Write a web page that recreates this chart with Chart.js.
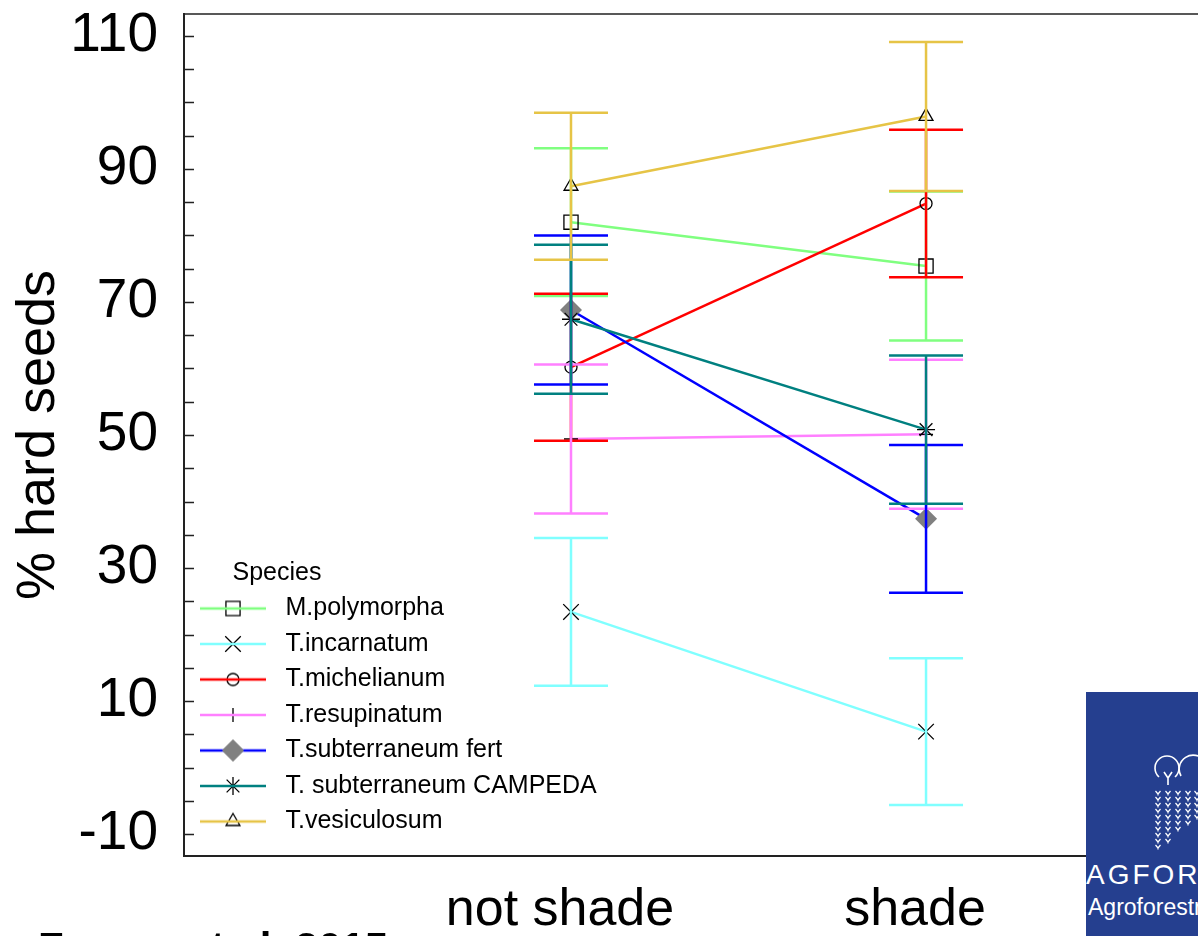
<!DOCTYPE html>
<html>
<head>
<meta charset="utf-8">
<script src="https://cdn.jsdelivr.net/npm/chart.js@4.4.1/dist/chart.umd.min.js"></script>
<style>
  html, body { margin: 0; padding: 0; background: #fff; overflow: hidden; }
  #wrap { position: relative; width: 1198px; height: 936px; }
  #logo { position: absolute; left: 1086px; top: 692px; width: 112px; height: 244px;
          background: #253f8f; overflow: hidden; color: #fff;
          font-family: "Liberation Sans", Arial, sans-serif; }
  #logo .big { position: absolute; left: 0; top: 169px; font-size: 28px; line-height: 28px;
               letter-spacing: 3px; white-space: nowrap; }
  #logo .small { position: absolute; left: 2px; top: 204px; font-size: 23px; line-height: 23px;
                 white-space: nowrap; }
  #cite { position: absolute; left: 38px; top: 927px; font: bold 42px/42px "Liberation Sans", Arial, sans-serif;
          white-space: nowrap; color: #000; }
</style>
</head>
<body>
<div id="wrap">
  <canvas id="seeds-chart" width="1198" height="936"></canvas>
  <div id="logo">
    <svg id="trees" width="112" height="160" style="position:absolute;left:0;top:0"></svg>
    <div class="big">AGFORWARD</div>
    <div class="small">Agroforestry that will advance</div>
  </div>
  <div id="cite">Franca et al. 2015</div>
</div>
<script>
/* ---- data ---- */
const categories = ['not shade', 'shade'];
const species = ['M.polymorpha', 'T.incarnatum', 'T.michelianum', 'T.resupinatum',
                 'T.subterraneum fert', 'T. subterraneum CAMPEDA', 'T.vesiculosum'];
const notShadeMean = [82.0, 23.4, 60.2, 49.4, 68.8, 67.4, 87.4];
const shadeMean    = [75.4, 5.4, 84.8, 50.1, 37.4, 50.8, 97.9];
const notShadeErr  = [11.1, 11.1, 11.05, 11.2, 11.2, 11.2, 11.05];
const shadeErr     = [11.2, 11.05, 11.1, 11.2, 11.1, 11.15, 11.2];
const yTickLabels  = [-10, 10, 30, 50, 70, 90, 110];
const yMinorTicks  = [-10, -5, 0, 5, 10, 15, 20, 25, 30, 35, 40, 45, 50, 55, 60,
                      65, 70, 75, 80, 85, 90, 95, 100, 105, 110];

/* ---- styles ---- */
const colors  = ['#80ff80', '#80ffff', '#ff0000', '#ff80ff', '#0000ff', '#008080', '#e6c446'];
const markers = ['rect', 'crossRot', 'circle', 'cross', 'rectRot', 'star', 'triangle'];
const msize   = [10, 11, 6, 7, 11, 9, 8];
const FONT = '"Liberation Sans", Arial, sans-serif';

function markerStroke(i) { return i === 4 ? 'rgba(0,0,0,0)' : '#000'; }
function markerFill(i) { return i === 4 ? '#808080' : 'rgba(0,0,0,0)'; }

/* legend swatch: line with the marker on it */
function makeIcon(i) {
  const c = document.createElement('canvas');
  c.width = 66; c.height = 28;
  const g = c.getContext('2d');
  g.strokeStyle = markerStroke(i);
  g.fillStyle = markerFill(i);
  g.lineWidth = 1.3;
  Chart.helpers.drawPoint(g, { pointStyle: markers[i], radius: msize[i], rotation: 0, borderWidth: 1.3 }, 33, 14);
  g.strokeStyle = colors[i];
  g.lineWidth = 2.5;
  g.beginPath(); g.moveTo(0, 14); g.lineTo(66, 14); g.stroke();
  if (i === 4) {
    g.fillStyle = '#808080';
    Chart.helpers.drawPoint(g, { pointStyle: 'rectRot', radius: msize[i], rotation: 0, borderWidth: 0 }, 33, 14);
  }
  return c;
}
const legendIcons = species.map((s, i) => makeIcon(i));

/* error bars, drawn over the series lines */
const errorBars = {
  id: 'errorBars',
  afterDatasetsDraw(chart) {
    const { ctx, scales: { x, y } } = chart;
    ctx.save();
    ctx.lineWidth = 2.5;
    chart.data.datasets.forEach((ds) => {
      ctx.strokeStyle = ds.borderColor;
      ds.data.forEach((p, j) => {
        const px = x.getPixelForValue(p.x);
        const top = y.getPixelForValue(p.y + ds.err[j]);
        const bot = y.getPixelForValue(p.y - ds.err[j]);
        ctx.beginPath();
        ctx.moveTo(px, top); ctx.lineTo(px, bot);
        ctx.moveTo(px - 37, top); ctx.lineTo(px + 37, top);
        ctx.moveTo(px - 37, bot); ctx.lineTo(px + 37, bot);
        ctx.stroke();
      });
    });
    ctx.restore();
  }
};

/* top frame line and inward y ticks */
const frame = {
  id: 'frame',
  afterDraw(chart) {
    const { ctx, chartArea: a, scales: { y } } = chart;
    ctx.save();
    ctx.strokeStyle = '#222';
    ctx.lineWidth = 1.5;
    ctx.beginPath();
    ctx.moveTo(a.left, a.top); ctx.lineTo(a.right, a.top);
    y.ticks.forEach((t) => {
      const py = Math.round(y.getPixelForValue(t.value)) + 0.5;
      ctx.moveTo(a.left, py); ctx.lineTo(a.left + 10, py);
    });
    ctx.stroke();
    ctx.restore();
  }
};

/* move the legend to the lower left corner of the plot */
const legendPlace = {
  id: 'legendPlace',
  afterLayout(chart) {
    const lg = chart.legend;
    const a = chart.chartArea;
    lg.left = a.left - 1.5;
    lg.top = a.bottom - 295.5;
    lg.right = lg.left + lg.width + 20;
    lg.bottom = lg.top + 320;
  }
};

const datasets = species.map((name, i) => ({
  label: name,
  data: [{ x: 0, y: notShadeMean[i] }, { x: 1, y: shadeMean[i] }],
  err: [notShadeErr[i], shadeErr[i]],
  borderColor: colors[i],
  backgroundColor: colors[i],
  borderWidth: 2.5,
  pointStyle: markers[i],
  pointRadius: msize[i],
  pointHoverRadius: msize[i],
  pointBorderColor: markerStroke(i),
  pointBackgroundColor: markerFill(i),
  pointBorderWidth: 1.3,
  order: -i
}));

new Chart(document.getElementById('seeds-chart'), {
  type: 'line',
  data: { datasets },
  options: {
    responsive: false,
    animation: false,
    layout: { autoPadding: false, padding: { top: 14, left: 0, right: 0, bottom: 0 } },
    scales: {
      x: {
        type: 'linear',
        min: -1.09,
        max: 1.766,
        afterBuildTicks: (s) => { s.ticks = categories.map((c, i) => ({ value: i })); },
        afterFit: (s) => { s.height = 80; s.paddingLeft = 0; s.paddingRight = 0; },
        ticks: {
          color: '#000',
          padding: 29,
          labelOffset: -11,
          maxRotation: 0,
          autoSkip: false,
          font: { family: FONT, size: 52, lineHeight: 1 },
          callback: (v) => categories[v]
        },
        grid: { drawOnChartArea: false, drawTicks: false },
        border: { color: '#222', width: 2 }
      },
      y: {
        min: -13.3,
        max: 113.3,
        afterBuildTicks: (s) => { s.ticks = yMinorTicks.map((v) => ({ value: v })); },
        afterFit: (s) => { s.width = 184; s.paddingTop = 0; s.paddingBottom = 0; },
        ticks: {
          color: '#000',
          padding: 26,
          autoSkip: false,
          font: { family: FONT, size: 55, lineHeight: 1 },
          callback: (v) => (yTickLabels.includes(v) ? String(v) : '')
        },
        title: {
          display: true,
          text: '% hard seeds',
          color: '#000',
          font: { family: FONT, size: 54, lineHeight: 1 },
          padding: { top: 12, bottom: 0 }
        },
        grid: { drawOnChartArea: false, drawTicks: false },
        border: { color: '#222', width: 2 }
      }
    },
    plugins: {
      tooltip: { enabled: false },
      legend: {
        position: 'chartArea',
        align: 'start',
        title: {
          display: true,
          text: '\u2003\u2003Species',
          position: 'start',
          color: '#000',
          padding: 0,
          font: { family: FONT, size: 25, lineHeight: 1 }
        },
        labels: {
          usePointStyle: true,
          pointStyleWidth: 80,
          padding: 10.5,
          color: '#000',
          font: { family: FONT, size: 25 },
          generateLabels: (chart) => chart.data.datasets.map((ds, i) => ({
            text: ds.label,
            pointStyle: legendIcons[i],
            datasetIndex: i,
            hidden: false,
            lineWidth: 0,
            strokeStyle: 'rgba(0,0,0,0)',
            fillStyle: 'rgba(0,0,0,0)'
          }))
        }
      }
    }
  },
  plugins: [errorBars, frame, legendPlace]
});

/* logo artwork: two tree crowns above rows of small seedlings */
(function drawTrees() {
  const svg = document.getElementById('trees');
  const ns = 'http://www.w3.org/2000/svg';
  function add(tag, attrs) {
    const el = document.createElementNS(ns, tag);
    Object.keys(attrs).forEach((k) => el.setAttribute(k, attrs[k]));
    svg.appendChild(el);
  }
  const st = { fill: 'none', stroke: '#fff', 'stroke-width': 1.6 };
  add('path', Object.assign({ d: 'M73 85 A12 12 0 1 1 89 85' }, st));
  add('path', Object.assign({ d: 'M95 84 A14 14 0 1 1 116 88' }, st));
  add('path', Object.assign({ d: 'M78 80 L82 86 L86 80 M82 86 L82 93' }, st));
  const cols = [[72, 10], [82, 9], [92, 7], [102, 6], [111, 5]];
  cols.forEach(([cx, n]) => {
    for (let r = 0; r < n; r++) {
      const cy = 99 + r * 6;
      add('path', { d: `M${cx - 2.5} ${cy} L${cx} ${cy + 3} L${cx + 2.5} ${cy} M${cx} ${cy + 3} L${cx} ${cy + 4.5}`,
                    fill: 'none', stroke: '#fff', 'stroke-width': 1.2 });
    }
  });
})();
</script>
</body>
</html>
